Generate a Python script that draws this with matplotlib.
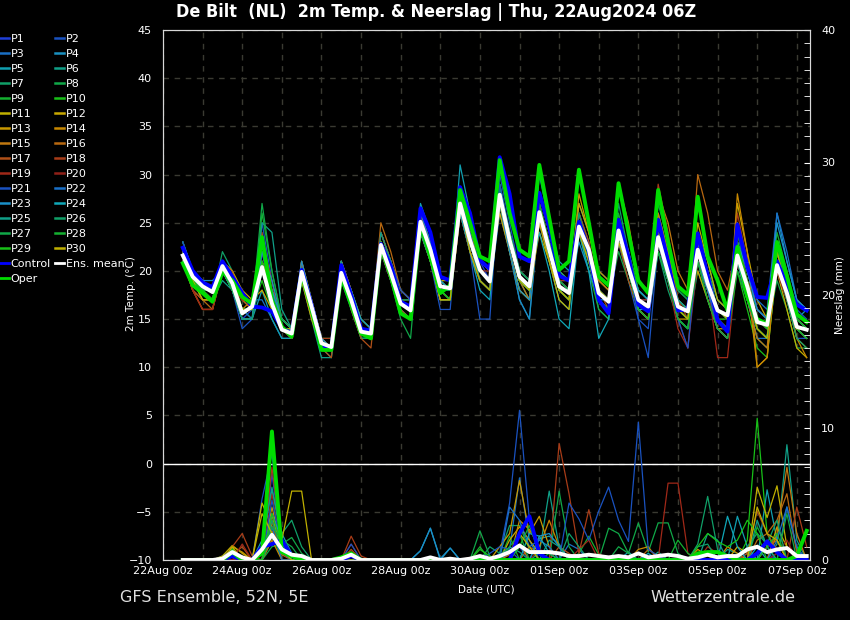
import numpy as np
import pandas as pd
import matplotlib
matplotlib.use('Agg')
import matplotlib.pyplot as plt
import matplotlib.dates as mdates
from matplotlib.lines import Line2D

# Eixo do tempo: passos de 6h a partir de 22Aug 12Z
tempos = pd.date_range('2024-08-22 12:00', periods=64, freq='6h')

membros = ['P%d' % k for k in range(1, 31)]
cores_membros = ['#1f3fd9', '#1a52c0', '#1a6fc4', '#1a90c0', '#10a0b0', '#10a088', '#10a068', '#10a848',
                 '#14b030', '#18c018', '#c0b000', '#c8a800', '#c89800', '#c88800', '#c07810', '#b86810',
                 '#b05018', '#a83c18', '#a02818', '#902018', '#1a52c0', '#1a70c8', '#1a90c8', '#10a8b8',
                 '#10a088', '#10a068', '#10a848', '#14b030', '#18c018', '#c0b000']

# 2m temperatura (C) de cada membro, blocos de um dia (12Z 18Z 00Z 06Z)
temp_membros = [
    "23 20 18 17 | 21 19 15 16 | 22 17 14 13 | 20 16 12 12 | 20 17 14 14 | 23 20 17 16 | 26 23 19 18 | 28 24 21 19 | 29 24 20 19 | 27 23 19 18 | 26 23 18 17 | 25 21 17 16 | 23 20 16 15 | 21 18 15 14 | 23 19 15 14 | 22 18 14 13",
    "22 19 18 18 | 20 18 14 15 | 25 19 14 13 | 21 16 12 12 | 21 18 14 14 | 22 19 16 15 | 25 21 17 17 | 27 22 15 15 | 30 25 20 19 | 25 21 17 16 | 26 22 17 16 | 23 19 15 14 | 25 21 16 15 | 21 18 14 13 | 25 20 16 15 | 20 17 13 13",
    "21 19 18 18 | 20 19 17 17 | 17 15 13 13 | 19 16 12 12 | 19 17 14 14 | 23 20 17 16 | 24 21 18 18 | 26 22 19 18 | 26 22 17 15 | 27 22 18 17 | 24 21 16 15 | 25 21 17 17 | 23 19 15 14 | 22 19 16 15 | 20 17 13 13 | 23 19 15 14",
    "23 20 19 18 | 21 19 17 16 | 20 17 14 14 | 20 17 13 12 | 21 18 15 14 | 24 21 17 16 | 26 22 18 18 | 27 23 20 19 | 28 22 17 15 | 26 23 19 19 | 27 24 20 19 | 25 22 18 17 | 26 22 18 17 | 21 17 14 13 | 21 17 14 13 | 26 21 17 16",
    "22 20 18 18 | 20 18 15 15 | 18 15 13 13 | 20 16 12 11 | 21 17 13 13 | 22 19 16 15 | 27 24 19 18 | 31 26 21 20 | 27 23 19 17 | 30 25 21 20 | 25 21 17 16 | 24 21 18 17 | 22 19 15 14 | 24 21 17 16 | 22 18 14 13 | 22 19 15 16",
    "21 18 17 17 | 19 18 15 15 | 21 18 15 14 | 19 15 11 11 | 20 16 13 13 | 23 21 18 17 | 25 22 19 19 | 28 24 20 19 | 29 23 19 18 | 26 21 17 16 | 24 22 19 18 | 23 20 16 15 | 24 20 16 16 | 23 20 17 16 | 21 17 13 12 | 20 17 14 13",
    "22 19 17 17 | 22 20 16 16 | 23 17 14 14 | 20 16 12 12 | 19 16 13 13 | 23 20 17 17 | 24 21 17 17 | 27 23 20 19 | 28 24 20 19 | 26 22 18 18 | 25 21 17 16 | 27 22 18 17 | 22 18 15 14 | 20 17 14 13 | 23 19 16 15 | 21 18 15 14",
    "22 19 18 18 | 20 19 16 16 | 20 17 14 13 | 21 17 13 13 | 20 17 14 14 | 22 19 15 13 | 25 22 18 17 | 26 23 20 19 | 27 22 18 17 | 25 22 19 18 | 26 22 18 17 | 22 19 16 15 | 27 23 18 17 | 22 19 16 15 | 24 19 15 14 | 19 16 12 12",
    "23 20 19 18 | 21 19 16 15 | 26 20 15 14 | 20 16 12 12 | 20 17 14 13 | 23 20 17 16 | 25 22 18 18 | 27 23 20 19 | 29 24 20 19 | 26 23 18 17 | 24 20 16 15 | 26 22 18 17 | 24 20 15 14 | 22 19 15 14 | 22 18 16 15 | 24 20 15 14",
    "21 19 18 17 | 20 19 17 16 | 19 16 14 14 | 20 16 12 12 | 20 17 14 13 | 22 20 17 17 | 26 23 19 18 | 27 22 19 18 | 28 24 20 19 | 27 22 18 17 | 25 21 18 17 | 24 20 17 16 | 22 19 17 16 | 21 18 15 15 | 20 16 12 11 | 21 18 15 14",
    "22 19 18 17 | 20 18 15 15 | 21 18 15 14 | 20 16 12 12 | 21 18 14 13 | 24 21 17 16 | 24 21 17 17 | 26 22 19 18 | 27 23 19 18 | 24 21 17 16 | 27 24 19 18 | 23 20 16 15 | 23 20 16 15 | 25 21 17 16 | 22 18 14 13 | 20 16 12 11",
    "22 19 18 18 | 21 20 18 17 | 18 16 14 14 | 19 15 12 12 | 20 17 14 14 | 23 20 17 16 | 25 23 19 19 | 27 24 21 20 | 26 22 18 17 | 28 24 20 19 | 24 21 17 16 | 25 22 17 16 | 25 22 17 16 | 20 17 14 13 | 27 22 17 15 | 23 19 15 14",
    "22 20 18 18 | 21 19 16 16 | 20 17 14 13 | 21 17 13 12 | 21 17 14 13 | 23 21 17 16 | 25 22 18 17 | 28 24 20 19 | 27 22 18 17 | 26 22 18 17 | 28 24 20 19 | 24 20 16 15 | 23 19 15 15 | 22 18 14 14 | 23 19 10 11 | 21 17 13 12",
    "21 18 16 16 | 20 19 16 17 | 21 18 15 14 | 20 16 12 12 | 20 17 14 13 | 23 20 17 16 | 26 22 18 17 | 26 23 20 19 | 28 23 19 18 | 27 23 19 18 | 24 21 18 17 | 29 25 19 18 | 26 22 17 16 | 21 18 14 13 | 28 22 10 11 | 22 18 13 11",
    "22 18 17 17 | 20 19 17 16 | 22 18 15 14 | 19 16 12 12 | 20 17 14 13 | 24 21 18 17 | 25 22 18 18 | 27 24 21 20 | 28 24 19 17 | 25 22 18 17 | 25 22 19 18 | 23 20 17 16 | 28 25 20 18 | 23 19 15 14 | 21 17 13 12 | 22 19 15 14",
    "22 19 17 16 | 21 20 17 17 | 20 18 15 14 | 20 17 13 12 | 21 18 15 14 | 25 22 18 17 | 24 22 19 18 | 26 22 19 18 | 27 23 19 18 | 26 22 19 18 | 24 21 17 16 | 24 21 17 16 | 25 21 17 16 | 30 26 20 18 | 23 19 15 14 | 20 17 14 14",
    "21 18 16 16 | 20 19 17 16 | 24 18 14 13 | 20 16 12 11 | 20 16 13 12 | 22 19 16 15 | 26 23 19 18 | 28 23 19 18 | 28 24 20 19 | 25 22 19 18 | 26 23 18 16 | 23 19 16 15 | 24 21 17 16 | 23 20 16 15 | 22 18 15 14 | 21 18 15 14",
    "21 18 17 17 | 21 19 17 17 | 23 19 14 13 | 21 17 13 13 | 20 17 14 14 | 23 20 17 16 | 26 22 18 18 | 27 23 20 19 | 27 23 19 18 | 26 23 19 19 | 25 21 17 16 | 24 20 16 15 | 29 24 17 15 | 22 18 14 13 | 26 21 16 15 | 22 18 14 13",
    "22 18 16 16 | 20 18 17 17 | 21 17 14 14 | 20 16 12 12 | 20 17 14 13 | 23 20 17 16 | 25 22 19 18 | 27 23 20 20 | 28 23 19 18 | 26 22 18 17 | 25 22 18 17 | 24 21 17 17 | 23 19 14 12 | 23 19 11 11 | 21 17 14 13 | 22 19 15 14",
    "22 19 18 17 | 20 19 16 16 | 20 17 14 14 | 20 16 12 12 | 20 17 14 14 | 24 21 17 17 | 25 22 18 17 | 26 22 19 18 | 28 24 20 19 | 27 23 19 18 | 26 22 18 17 | 25 21 17 16 | 24 20 15 12 | 21 18 15 14 | 23 19 15 14 | 20 17 14 13",
    "23 20 18 18 | 20 18 15 15 | 22 18 14 14 | 20 16 12 12 | 21 17 14 13 | 23 21 18 17 | 25 21 16 16 | 28 24 20 19 | 29 24 20 19 | 27 22 18 17 | 24 21 17 16 | 25 21 15 11 | 23 19 15 12 | 22 18 14 13 | 24 20 16 15 | 22 19 16 15",
    "22 19 18 18 | 21 19 16 15 | 20 17 14 14 | 20 16 12 12 | 20 17 14 13 | 22 20 17 16 | 25 22 18 18 | 27 23 20 19 | 28 23 19 18 | 26 23 19 18 | 25 22 18 17 | 23 20 16 15 | 22 19 16 15 | 23 19 15 14 | 25 21 17 16 | 26 22 17 16",
    "22 20 19 19 | 20 18 15 15 | 22 19 15 14 | 21 17 13 12 | 20 17 14 13 | 23 20 17 16 | 26 23 19 18 | 27 23 19 18 | 27 22 18 17 | 26 23 19 18 | 23 20 17 17 | 24 21 18 17 | 24 20 16 16 | 21 18 15 14 | 23 20 16 15 | 25 21 17 16",
    "22 19 18 18 | 20 18 16 16 | 20 18 15 14 | 20 16 12 12 | 20 18 15 14 | 23 20 17 16 | 25 22 19 18 | 26 22 18 17 | 28 24 20 19 | 24 20 15 14 | 24 20 13 15 | 24 20 16 16 | 23 20 17 16 | 24 20 16 15 | 21 17 14 13 | 22 18 14 13",
    "21 19 18 18 | 21 19 16 16 | 25 24 16 14 | 20 16 12 12 | 21 17 14 14 | 24 21 17 16 | 25 22 18 17 | 27 23 20 19 | 27 23 19 18 | 28 24 20 19 | 25 22 18 17 | 23 20 17 16 | 24 21 17 16 | 22 19 15 14 | 22 18 15 14 | 21 18 15 14",
    "22 19 18 17 | 20 18 15 15 | 20 17 14 14 | 20 16 12 12 | 20 17 14 14 | 23 20 17 17 | 24 21 18 18 | 27 23 19 18 | 28 23 19 18 | 26 22 18 17 | 26 22 17 16 | 25 21 17 16 | 24 20 16 15 | 22 19 16 15 | 22 18 14 13 | 21 17 13 12",
    "22 19 18 18 | 20 19 16 16 | 27 20 15 14 | 20 16 12 12 | 20 17 14 13 | 23 20 17 16 | 25 22 18 18 | 27 23 20 19 | 28 24 20 19 | 26 22 18 18 | 25 22 18 17 | 24 21 17 16 | 24 20 16 16 | 22 19 16 15 | 21 18 14 13 | 22 19 15 14",
    "22 19 18 18 | 20 18 16 16 | 21 17 14 14 | 20 16 12 12 | 20 17 14 14 | 23 20 17 16 | 25 22 18 17 | 27 23 20 19 | 28 23 19 18 | 27 23 19 18 | 25 21 17 16 | 25 21 17 16 | 22 19 15 14 | 21 17 14 13 | 20 17 14 13 | 21 18 15 14",
    "22 19 18 17 | 20 19 16 16 | 21 17 14 13 | 20 16 12 12 | 20 17 14 14 | 23 20 17 16 | 25 22 18 17 | 27 23 20 19 | 28 23 19 18 | 26 22 18 17 | 25 21 17 16 | 24 20 16 15 | 23 20 16 15 | 22 19 16 15 | 23 19 15 14 | 22 18 14 13",
    "22 19 17 17 | 21 19 16 16 | 20 17 14 14 | 19 16 12 12 | 20 17 14 13 | 23 20 17 16 | 25 21 17 17 | 27 22 19 18 | 27 23 19 18 | 25 21 18 17 | 24 21 18 17 | 23 20 17 16 | 24 20 16 15 | 22 19 16 15 | 22 18 14 13 | 22 18 14 14",
]

temp_control = [22.4, 20.0, 18.8, 18.3, 21.0, 19.4, 17.7, 16.3, 16.2, 15.8, 14.1, 13.5, 20.1, 16.5, 12.3, 12.0,
                20.6, 17.5, 14.0, 13.8, 22.8, 20.5, 16.8, 16.3, 26.5, 24.0, 19.4, 19.0, 28.7, 26.0, 21.1, 20.2,
                31.8, 28.0, 21.5, 21.0, 28.1, 24.5, 19.5, 19.0, 25.1, 22.0, 17.0, 15.6, 25.3, 21.5, 16.5, 15.8,
                25.3, 21.0, 15.9, 16.0, 23.9, 19.5, 14.9, 13.7, 24.8, 20.5, 17.3, 17.2, 21.0, 18.5, 16.5, 15.9]
temp_oper = [20.8, 18.5, 17.7, 16.8, 19.9, 19.0, 17.3, 16.6, 23.5, 17.0, 14.2, 13.2, 19.7, 16.0, 11.8, 11.8,
             19.4, 16.5, 13.5, 13.0, 22.5, 19.5, 15.6, 15.0, 24.9, 21.5, 17.7, 18.5, 28.4, 25.0, 21.5, 21.0,
             31.5, 26.0, 22.2, 21.5, 31.0, 25.5, 20.1, 21.0, 30.5, 25.0, 19.4, 18.5, 29.1, 24.0, 19.0, 17.7,
             28.4, 23.0, 18.4, 17.5, 27.7, 21.5, 19.0, 15.9, 22.5, 17.3, 15.0, 14.5, 23.0, 19.5, 15.5, 14.7]
temp_media = [21.6, 19.4, 18.4, 17.8, 20.5, 18.7, 15.6, 16.3, 20.4, 16.6, 13.9, 13.5, 19.9, 16.3, 12.5, 12.1,
              19.8, 17.0, 13.7, 13.5, 22.7, 19.8, 16.6, 15.9, 25.1, 22.2, 18.4, 18.2, 27.0, 23.2, 20.1, 18.9,
              27.9, 23.2, 19.4, 18.4, 26.1, 22.2, 18.4, 17.7, 24.6, 22.2, 17.7, 16.8, 24.2, 20.4, 17.0, 16.3,
              23.5, 19.8, 16.3, 15.8, 22.2, 18.7, 15.9, 15.4, 21.6, 18.4, 14.7, 14.4, 20.6, 17.7, 14.2, 13.9]

# Neerslag (mm) por passo de 6h: {indice: valor}, o resto e zero
chuva_membros = [
    {5: 0.3, 9: 6.5, 10: 1.0, 33: 0.5, 34: 1.0, 47: 0.3, 57: 0.5, 58: 1.0, 59: 0.5},
    {8: 4.6, 9: 8.0, 10: 1.5, 32: 0.5, 33: 4.3, 34: 11.3, 35: 3.0, 36: 0.5, 60: 0.5, 61: 1.0},
    {4: 0.3, 5: 0.8, 9: 3.0, 10: 1.0, 33: 0.8, 34: 6.2, 35: 1.5, 39: 1.2, 40: 0.8, 61: 4.0, 62: 0.8},
    {5: 0.5, 9: 2.0, 10: 0.5, 24: 0.7, 25: 2.4, 27: 0.9, 34: 1.0, 35: 0.6, 36: 0.4},
    {5: 0.6, 8: 1.5, 9: 5.3, 10: 2.0, 11: 0.5, 36: 1.6, 37: 1.8, 38: 1.2, 45: 0.6, 56: 3.3, 57: 1.0, 59: 5.3, 60: 1.5},
    {5: 0.8, 9: 2.5, 10: 1.2, 36: 0.5, 37: 5.2, 38: 1.0, 48: 0.6, 55: 0.8, 56: 0.5, 60: 1.2, 61: 8.7, 62: 1.5},
    {5: 0.4, 9: 1.5, 10: 2.0, 11: 3.0, 12: 1.0, 31: 1.0, 32: 0.5, 33: 2.6, 34: 2.6, 35: 0.8, 52: 1.2, 53: 4.8, 54: 0.8},
    {9: 1.0, 10: 1.2, 11: 1.7, 12: 0.5, 30: 2.2, 31: 0.3, 38: 5.2, 39: 1.0, 43: 2.4, 44: 2.0, 45: 0.5, 46: 2.8,
     47: 0.6, 48: 2.8, 49: 2.8, 50: 0.5},
    {5: 0.7, 9: 2.0, 17: 0.3, 30: 1.0, 33: 1.8, 40: 0.5, 41: 1.8, 42: 0.4, 58: 2.5, 59: 1.0},
    {5: 0.9, 8: 0.5, 9: 3.0, 17: 0.5, 57: 1.5, 58: 10.7, 59: 2.0, 60: 0.5},
    {4: 0.3, 5: 1.1, 6: 0.5, 8: 4.3, 9: 2.5, 10: 1.5, 11: 5.2, 12: 5.2, 58: 5.5, 59: 3.2, 60: 5.6, 61: 1.0},
    {5: 0.8, 9: 3.4, 10: 0.6, 33: 1.5, 34: 2.5, 35: 1.5, 36: 0.5, 56: 1.0, 57: 0.5, 60: 2.5, 61: 1.0},
    {5: 1.0, 6: 0.6, 9: 4.0, 10: 0.8, 32: 1.0, 33: 2.0, 34: 6.0, 35: 2.0, 36: 3.3, 37: 1.0, 52: 0.8, 53: 0.3,
     59: 1.0, 60: 1.5},
    {5: 0.6, 9: 1.5, 34: 3.0, 35: 2.3, 36: 1.0, 37: 3.0, 38: 1.0, 46: 0.8, 47: 1.0, 55: 1.0, 56: 0.5},
    {5: 0.5, 9: 2.2, 10: 0.4, 33: 0.4, 34: 1.2, 52: 0.5, 53: 0.5, 60: 2.0, 61: 7.0, 62: 2.0},
    {9: 1.8, 10: 0.8, 30: 0.3, 35: 1.0, 36: 0.5, 47: 0.8, 48: 0.3, 58: 1.5, 59: 2.0, 60: 3.0, 61: 5.0, 62: 0.5},
    {5: 0.4, 6: 1.0, 9: 3.0, 17: 0.8, 38: 1.0, 39: 0.5, 53: 0.5, 57: 0.5, 58: 3.7, 59: 2.0, 60: 0.8},
    {5: 1.0, 6: 2.0, 7: 0.3, 9: 7.0, 10: 1.0, 17: 1.8, 18: 0.3, 29: 0.2, 38: 8.8, 39: 5.0, 40: 0.5, 41: 3.8,
     42: 0.5, 62: 4.0, 63: 1.0},
    {6: 1.2, 9: 5.0, 10: 0.5, 17: 1.2, 40: 0.8, 41: 1.5, 49: 5.8, 50: 5.8, 51: 0.5, 53: 1.0, 54: 0.5},
    {9: 2.0, 10: 0.6, 17: 0.6, 36: 0.8, 37: 0.5, 60: 0.5, 61: 1.5},
    {5: 0.4, 9: 4.5, 10: 1.0, 17: 1.2, 31: 0.5, 32: 1.0, 33: 0.8, 39: 4.3, 40: 3.1, 41: 1.5, 42: 3.7, 43: 5.5,
     44: 3.0, 45: 1.4, 46: 10.4, 47: 0.8, 48: 0.3},
    {5: 0.3, 9: 2.5, 33: 4.0, 34: 3.0, 35: 1.0, 36: 1.5, 37: 1.0, 60: 1.5, 61: 4.0, 62: 1.0},
    {5: 0.5, 9: 3.5, 10: 1.5, 24: 0.7, 25: 2.4, 26: 0.1, 27: 0.9, 36: 1.8, 37: 2.0, 38: 1.0, 59: 1.5, 60: 0.6},
    {5: 0.4, 9: 2.0, 10: 0.6, 35: 2.0, 36: 1.8, 37: 0.5, 47: 0.5, 55: 3.3, 56: 1.0, 58: 1.0},
    {5: 0.6, 8: 1.0, 9: 5.5, 10: 1.3, 32: 0.3, 33: 1.0, 34: 0.6, 37: 1.5, 38: 1.0, 53: 2.0, 54: 1.5, 58: 3.0, 59: 1.0},
    {5: 0.6, 9: 3.0, 10: 0.7, 39: 2.0, 40: 1.0, 52: 1.0, 53: 1.2, 57: 1.0, 58: 2.0, 59: 1.2, 60: 3.0},
    {5: 0.7, 9: 2.5, 10: 1.5, 11: 1.0, 33: 1.0, 34: 2.0, 37: 0.5, 44: 1.0, 45: 0.5, 61: 3.5},
    {5: 0.8, 9: 2.0, 10: 1.0, 34: 1.0, 35: 2.6, 36: 0.5, 50: 1.5, 51: 0.5, 59: 1.0, 60: 2.0},
    {5: 0.8, 9: 3.5, 10: 1.0, 17: 0.6, 30: 0.8, 31: 0.3, 52: 1.0, 53: 2.0, 54: 1.4, 55: 1.0, 56: 1.5, 57: 3.0, 58: 2.0},
    {5: 1.0, 8: 3.5, 9: 2.0, 10: 0.8, 34: 2.0, 35: 1.0, 58: 4.0, 59: 2.0, 60: 1.5},
]
chuva_control = {5: 0.3, 8: 1.0, 9: 1.2, 10: 1.5, 11: 0.3, 17: 0.3, 34: 2.0, 35: 3.3, 36: 0.5, 58: 0.5, 59: 1.4, 60: 0.6}
chuva_oper = {5: 0.6, 8: 0.5, 9: 9.7, 10: 0.6, 11: 0.3, 16: 0.2, 17: 0.5, 52: 0.5, 53: 0.6, 54: 0.6, 55: 0.3,
              62: 0.3, 63: 2.2}
chuva_media = {4: 0.1, 5: 0.6, 6: 0.2, 8: 0.8, 9: 1.9, 10: 0.8, 11: 0.4, 12: 0.3, 16: 0.1, 17: 0.4, 25: 0.2,
               27: 0.1, 29: 0.1, 30: 0.3, 31: 0.1, 32: 0.3, 33: 0.6, 34: 1.1, 35: 0.6, 36: 0.6, 37: 0.6, 38: 0.5,
               39: 0.3, 40: 0.3, 41: 0.4, 42: 0.3, 43: 0.2, 44: 0.3, 45: 0.2, 46: 0.5, 47: 0.2, 48: 0.3, 49: 0.4,
               50: 0.3, 51: 0.1, 52: 0.2, 53: 0.4, 54: 0.2, 55: 0.3, 56: 0.3, 57: 0.8, 58: 1.0, 59: 0.6, 60: 0.8,
               61: 0.9, 62: 0.3, 63: 0.3}

datas_ticks = pd.date_range('2024-08-22', periods=9, freq='2D')


def serie_chuva(d):
    arr = np.zeros(len(tempos))
    for i, v in d.items():
        arr[i] = v
    return arr


fig = plt.figure(figsize=(8.5, 6.2), dpi=100, facecolor='black')
ax = fig.add_axes([163 / 850, 60 / 620, 647 / 850, 530 / 620])
ax.set_facecolor('black')
ax2 = ax.twinx()

# temperatura
for k in range(30):
    valores = np.array(temp_membros[k].replace('|', ' ').split(), dtype=float)
    ax.plot(tempos, valores, color=cores_membros[k], lw=0.9)
ax.plot(tempos, temp_control, color='#0000ff', lw=2.8)
ax.plot(tempos, temp_oper, color='#00dd00', lw=2.8)
ax.plot(tempos, temp_media, color='white', lw=2.8)
ax.axhline(0, color='white', lw=1)

# neerslag
for k in range(30):
    ax2.plot(tempos, serie_chuva(chuva_membros[k]), color=cores_membros[k], lw=0.9)
ax2.plot(tempos, serie_chuva(chuva_control), color='#0000ff', lw=2.8)
ax2.plot(tempos, serie_chuva(chuva_oper), color='#00dd00', lw=2.8)
ax2.plot(tempos, serie_chuva(chuva_media), color='white', lw=2.8)

ax.set_xlim(pd.Timestamp('2024-08-22 00:00'), pd.Timestamp('2024-09-07 08:00'))
ax.set_ylim(-10, 45)
ax2.set_ylim(0, 40)
ax.set_yticks(range(-10, 50, 5))
ax.set_xticks(datas_ticks)
ax.xaxis.set_major_formatter(mdates.DateFormatter('%d%b %Hz'))
ax.xaxis.set_minor_locator(mdates.DayLocator())
ax2.set_yticks(range(0, 50, 10))
ax2.set_yticks(range(0, 41, 1), minor=True)

grade = dict(color='#3a3a32', lw=1, linestyle=(0, (4, 4)))
ax.grid(True, which='both', axis='x', **grade)
ax.grid(True, which='major', axis='y', **grade)
ax.set_axisbelow(True)

ax.tick_params(axis='both', which='both', length=0, colors='white', labelsize=8)
ax.tick_params(axis='y', pad=8)
ax.tick_params(axis='x', pad=4)
ax2.tick_params(axis='y', which='both', direction='in', length=4, colors='white', labelsize=8, pad=8)
for a in (ax, ax2):
    for s in a.spines.values():
        s.set_color('#d8d8d8')

fig.text(436 / 850, 1 - 12 / 620, 'De Bilt  (NL)  2m Temp. & Neerslag | Thu, 22Aug2024 06Z',
         color='white', fontsize=12.9, fontweight='bold', fontstretch='condensed', ha='center', va='center')
fig.text(131 / 850, 1 - 294 / 620, '2m Temp. (°C)', color='white', fontsize=7.5, rotation=90,
         ha='center', va='center')
fig.text(840 / 850, 1 - 295 / 620, 'Neerslag (mm)', color='white', fontsize=7.5, rotation=90,
         ha='center', va='center')
fig.text(486 / 850, 1 - 589 / 620, 'Date (UTC)', color='white', fontsize=7.5, ha='center', va='center')
fig.text(120 / 850, 1 - 598 / 620, 'GFS Ensemble, 52N, 5E', color='#e0e0e0', fontsize=11.5, ha='left', va='center')
fig.text(650 / 850, 1 - 598 / 620, 'Wetterzentrale.de', color='#e0e0e0', fontsize=11.5, ha='left', va='center')

# legenda em duas colunas (ordem por linhas como no original)
alca = {}
for k in range(30):
    alca[membros[k]] = Line2D([], [], color=cores_membros[k], lw=1.8)
alca['Control'] = Line2D([], [], color='#0000ff', lw=2)
alca['Ens. mean'] = Line2D([], [], color='white', lw=2)
alca['Oper'] = Line2D([], [], color='#00dd00', lw=2)
col1 = membros[0::2] + ['Control', 'Oper']
col2 = membros[1::2] + ['Ens. mean']
rotulos = col1 + col2
leg = fig.legend([alca[r] for r in rotulos], rotulos, loc='upper left', bbox_to_anchor=(0, 1 - 34 / 620),
                 ncol=2, frameon=False, fontsize=8, labelcolor='white', handlelength=0.8,
                 handletextpad=0.15, columnspacing=0.4, labelspacing=0.45, borderaxespad=0, borderpad=0)

fig.savefig('out.png', dpi=100, facecolor='black')
